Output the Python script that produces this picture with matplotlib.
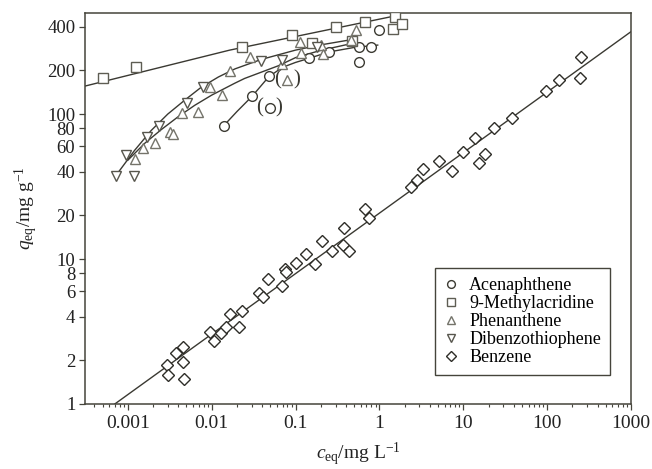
import matplotlib
matplotlib.use('Agg')
import matplotlib.pyplot as plt
from matplotlib.ticker import FixedLocator, LogLocator, NullLocator, NullFormatter, FuncFormatter

plt.rcParams['font.family'] = ['Liberation Serif', 'DejaVu Serif']
plt.rcParams['mathtext.fontset'] = 'custom'
plt.rcParams['mathtext.rm'] = 'Liberation Serif'
plt.rcParams['mathtext.it'] = 'Liberation Serif:italic'

# --- data (c_eq in mg/L, q_eq in mg/g) ---
ace_c = [0.0139, 0.0305, 0.048, 0.144, 0.254, 0.567, 0.567, 0.79, 0.98]
ace_q = [83, 134, 183, 242, 266, 288, 227, 288, 380]
ace_out_c = [0.049]
ace_out_q = [110]

mac_c = [0.00051, 0.00124, 0.0228, 0.091, 0.156, 0.30, 0.47, 0.68, 1.44, 1.55, 1.84]
mac_q = [178, 212, 291, 351, 307, 400, 319, 433, 384, 469, 416]

phe_c = [0.00121, 0.00152, 0.0021, 0.00316, 0.00347, 0.0044, 0.0069, 0.0095, 0.0134,
         0.0164, 0.0289, 0.0695, 0.112, 0.117, 0.2, 0.21, 0.46, 0.53]
phe_q = [48.7, 58, 63.4, 74.8, 72.8, 101, 103, 153, 135,
         198, 249, 220, 315, 262, 299, 258, 322, 380]
phe_out_c = [0.080]
phe_out_q = [171]

dbt_c = [0.00072, 0.00118, 0.00096, 0.0017, 0.00236, 0.0051, 0.0078, 0.039, 0.0695, 0.18]
dbt_q = [37.5, 37.5, 52, 69, 82.6, 118.6, 153, 232, 236, 291]

ben_c = [0.0029, 0.0030, 0.0038, 0.0045, 0.0046, 0.0047, 0.0095, 0.0106, 0.013, 0.015,
         0.0164, 0.021, 0.023, 0.037, 0.041, 0.047, 0.069, 0.074, 0.077, 0.102,
         0.134, 0.173, 0.208, 0.274, 0.366, 0.38, 0.43, 0.68, 0.75,
         2.38, 2.78, 3.28, 5.08, 7.33, 9.8, 13.8, 15.5, 18.3, 23.4, 37.6,
         96.6, 139, 251, 245]
ben_q = [1.86, 1.58, 2.24, 1.96, 2.48, 1.48, 3.15, 2.72, 3.1, 3.41,
         4.15, 3.41, 4.38, 5.8, 5.44, 7.28, 6.5, 8.6, 8.2, 9.4,
         10.9, 9.2, 13.3, 11.4, 12.4, 16.3, 11.4, 22.0, 19.1,
         31.5, 35, 41.6, 47.4, 40.6, 55, 68.7, 46.2, 53, 79.7, 94.3,
         145, 171, 246, 178]

# fitted curves
ace_fit_c = [0.0139, 0.02, 0.0305, 0.048, 0.07, 0.1, 0.144, 0.25, 0.5, 0.955]
ace_fit_q = [83, 104, 133, 181, 210, 227, 242, 268, 288, 299]
mac_fit_c = [0.00031, 0.0164, 1.73]
mac_fit_q = [156, 276, 482]
phe_fit_c = [0.001, 0.0016, 0.0025, 0.004, 0.0063, 0.01, 0.0188, 0.0247, 0.062, 0.1, 0.2, 0.45]
phe_fit_q = [48, 63, 78, 96, 115, 135, 163, 176, 215, 245, 275, 305]
dbt_fit_c = [0.00073, 0.0012, 0.0019, 0.003, 0.0048, 0.0075, 0.012, 0.019, 0.039, 0.1, 0.2, 0.45]
dbt_fit_q = [38, 56, 77, 100, 125, 153, 180, 205, 238, 276, 300, 325]
ben_fit_c = [0.0007, 1000]
ben_fit_q = [1.0, 370]

x_ticks = [0.001, 0.01, 0.1, 1, 10, 100, 1000]
y_ticks = [1, 2, 4, 6, 8, 10, 20, 40, 60, 80, 100, 200, 400]

axis_col = '#45443b'
line_col = '#3a3932'

fig = plt.figure(figsize=(6.52, 4.69), dpi=100)
ax = fig.add_axes([0.1304, 0.1386, 0.8374, 0.8343])
ax.set_xscale('log')
ax.set_yscale('log')

# fit lines
for fc, fq in [(ace_fit_c, ace_fit_q), (mac_fit_c, mac_fit_q), (phe_fit_c, phe_fit_q),
               (dbt_fit_c, dbt_fit_q), (ben_fit_c, ben_fit_q)]:
    ax.plot(fc, fq, color=line_col, lw=1.0, zorder=2)

mk = dict(linestyle='none', markerfacecolor='white', markeredgewidth=1.0, zorder=3)
ax.plot(ace_c, ace_q, marker='o', ms=7, markeredgecolor='#3c3b33', label='Acenaphthene', **mk)
ax.plot(mac_c, mac_q, marker='s', ms=6.5, markeredgecolor='#5e5d53', label='9-Methylacridine', **mk)
ax.plot(phe_c, phe_q, marker='^', ms=7.5, markeredgecolor='#74736a', label='Phenanthene', **mk)
ax.plot(dbt_c, dbt_q, marker='v', ms=7.5, markeredgecolor='#57564d', label='Dibenzothiophene', **mk)
ax.plot(ben_c, ben_q, marker='D', ms=6, markeredgecolor='#2e2d28', label='Benzene', **mk)

# excluded points shown in parentheses
ax.plot(ace_out_c, ace_out_q, marker='o', ms=7, markeredgecolor='#3c3b33', **mk)
ax.plot(phe_out_c, phe_out_q, marker='^', ms=7.5, markeredgecolor='#74736a', **mk)
for oc, oq in [(ace_out_c[0], ace_out_q[0]), (phe_out_c[0], phe_out_q[0])]:
    ax.annotate('(', (oc, oq), xytext=(-7, 0), textcoords='offset points',
                ha='center', va='center', fontsize=15, color=line_col)
    ax.annotate(')', (oc, oq), xytext=(7, 0), textcoords='offset points',
                ha='center', va='center', fontsize=15, color=line_col)

ax.set_xlim(10 ** -3.51, 1000)
ax.set_ylim(1, 500)

ax.xaxis.set_major_locator(FixedLocator(x_ticks))
ax.xaxis.set_minor_locator(LogLocator(base=10, subs=range(2, 10), numticks=20))
ax.xaxis.set_major_formatter(FuncFormatter(lambda v, p: '%g' % v))
ax.xaxis.set_minor_formatter(NullFormatter())
ax.yaxis.set_major_locator(FixedLocator(y_ticks))
ax.yaxis.set_minor_locator(NullLocator())
ax.yaxis.set_major_formatter(FuncFormatter(lambda v, p: '%g' % v))
ax.yaxis.set_minor_formatter(NullFormatter())

ax.tick_params(which='both', direction='out', color=axis_col, labelcolor='#222222',
               top=False, right=False)
ax.tick_params(axis='x', labelsize=14, pad=4)
ax.tick_params(axis='y', labelsize=13.5, pad=3)
ax.tick_params(which='major', length=4, width=0.9)
ax.tick_params(which='minor', length=2.5, width=0.8)
for s in ax.spines.values():
    s.set_color(axis_col)
    s.set_linewidth(1.1)

ax.set_xlabel(r'$c_{\mathrm{eq}}$/mg L$^{-1}$', fontsize=14, labelpad=6, color='#222222')
ax.set_ylabel(r'$q_{\mathrm{eq}}$/mg g$^{-1}$', fontsize=14, labelpad=5, color='#222222')

leg = ax.legend(loc='lower right', bbox_to_anchor=(0.9615, 0.074), borderaxespad=0,
                fancybox=False, edgecolor=axis_col, framealpha=1, fontsize=13,
                labelspacing=0.05, handlelength=0.8, handletextpad=0.6,
                borderpad=0.5, markerscale=0.8)
leg.get_frame().set_linewidth(1.0)

fig.savefig('out.png', dpi=100)
